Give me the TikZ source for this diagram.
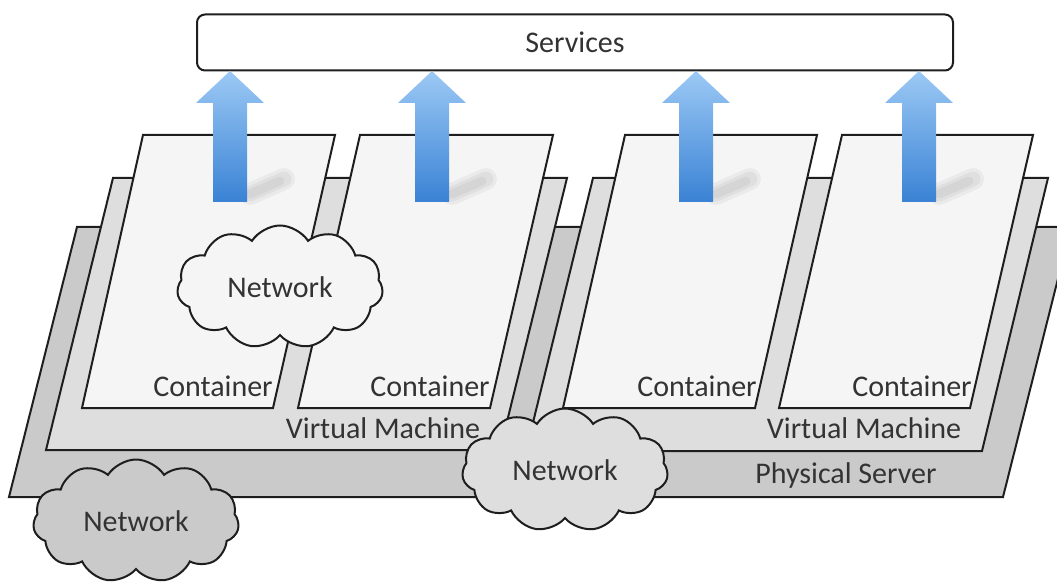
\documentclass[tikz,border=0pt]{standalone}
\usepackage{fontspec}
\setmainfont{Carlito}
\usetikzlibrary{shapes.symbols}

\definecolor{inkline}{HTML}{1E1E1E}
\definecolor{pscol}{HTML}{CACACA}
\definecolor{vmcol}{HTML}{DEDEDE}
\definecolor{ctcol}{HTML}{F5F5F5}
\definecolor{arrowtop}{HTML}{9CC9F5}
\definecolor{arrowbot}{HTML}{3A82D4}
\definecolor{txtcol}{HTML}{333333}

\tikzset{
  slab/.style={draw=inkline, line width=2pt, line join=miter},
  lbl/.style={text=txtcol, font=\fontsize{30}{36}\selectfont, inner sep=0pt},
  netcloud/.style={cloud, cloud puffs=11, cloud puff arc=115, aspect=1.7,
    draw=inkline, line width=2pt, text=txtcol, font=\fontsize{30}{36}\selectfont,
    minimum width=206pt, minimum height=123pt, inner sep=0pt},
  upshade/.style={top color=arrowtop, bottom color=arrowbot},
  blurline/.style={black, line cap=round, opacity=.045}
}

\begin{document}
\begin{tikzpicture}[x=1pt,y=-1pt]
  \useasboundingbox (0,0) rectangle (1057,585);
  \clip (0,0) rectangle (1057,585);

  % physical server and its two VMs
  \filldraw[slab, fill=pscol] (9,497) -- (1003,497) -- (1071,227) -- (77,227) -- cycle;
  \node[netcloud, fill=pscol] (netbottom) at (136,521) {Network};
  \filldraw[slab, fill=vmcol] (46,450) -- (500,450) -- (567,178) -- (113,178) -- cycle;
  \filldraw[slab, fill=vmcol] (526,451) -- (982,451) -- (1048,178) -- (593,178) -- cycle;
  \node[netcloud, fill=vmcol] (netmid) at (565,470) {Network};

  % containers
  \filldraw[slab, fill=ctcol] (82,408) -- (273,408) -- (335,135) -- (143,135) -- cycle;
  \filldraw[slab, fill=ctcol] (298,408) -- (490,408) -- (553,135) -- (360,135) -- cycle;
  \filldraw[slab, fill=ctcol] (563,408) -- (755,408) -- (817,135) -- (625,135) -- cycle;
  \filldraw[slab, fill=ctcol] (779,408) -- (970,408) -- (1033,135) -- (842,135) -- cycle;
  \node[netcloud, fill=ctcol] (nettop) at (280,287) {Network};

  \node[lbl] (cont1) at (213,386) {Container};
  \node[lbl] (cont2) at (430,386) {Container};
  \node[lbl] (cont3) at (697,386) {Container};
  \node[lbl] (cont4) at (912,386) {Container};
  \node[lbl] (vm1) at (383,428) {Virtual Machine};
  \node[lbl] (vm2) at (864,428) {Virtual Machine};
  \node[lbl] (server) at (846,475) {Physical Server};

  % services bar
  \node[lbl, draw=inkline, line width=2pt, rounded corners=8pt, fill=white,
    minimum width=756pt, minimum height=56pt] (services) at (575,42.5) {Services};

  % soft shadows behind the arrows
  \draw[blurline, line width=22pt] (250,194) -- (284,179);
  \draw[blurline, line width=15pt] (250,194) -- (284,179);
  \draw[blurline, line width=9pt] (250,194) -- (280,181);
  \draw[blurline, line width=22pt] (452,194) -- (486,179);
  \draw[blurline, line width=15pt] (452,194) -- (486,179);
  \draw[blurline, line width=9pt] (452,194) -- (482,181);
  \draw[blurline, line width=22pt] (716,194) -- (750,179);
  \draw[blurline, line width=15pt] (716,194) -- (750,179);
  \draw[blurline, line width=9pt] (716,194) -- (746,181);
  \draw[blurline, line width=22pt] (939,194) -- (973,179);
  \draw[blurline, line width=15pt] (939,194) -- (973,179);
  \draw[blurline, line width=9pt] (939,194) -- (969,181);

  % arrows up to the services bar
  \shade[upshade] (213,202) -- (213,103) -- (196,103) -- (230,71) -- (264,103) -- (247,103) -- (247,202) -- cycle;
  \shade[upshade] (415,202) -- (415,103) -- (398,103) -- (432,71) -- (466,103) -- (449,103) -- (449,202) -- cycle;
  \shade[upshade] (679,202) -- (679,103) -- (662,103) -- (696,71) -- (730,103) -- (713,103) -- (713,202) -- cycle;
  \shade[upshade] (902,202) -- (902,103) -- (885,103) -- (919,71) -- (953,103) -- (936,103) -- (936,202) -- cycle;
\end{tikzpicture}
\end{document}
